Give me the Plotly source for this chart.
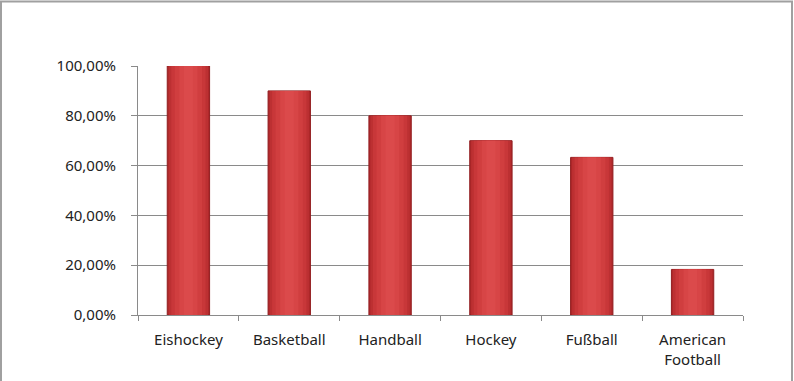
import plotly.graph_objects as go

categories = ["Eishockey", "Basketball", "Handball", "Hockey", "Fußball", "American<br>Football"]
values = [1.00, 0.90, 0.80, 0.70, 0.633, 0.183]

W, H = 794, 381
ml, mr, mt, mb = 138, 51, 66, 64
pw = W - ml - mr
ph = H - mt - mb

fig = go.Figure()
# layered bars of decreasing width to suggest the horizontal gradient
layers = [(0.42, "#AE282A"), (0.39, "#BC3032"), (0.34, "#C83739"),
          (0.27, "#D03E3F"), (0.18, "#D74546"), (0.09, "#DB4A4B")]
for i, (w, c) in enumerate(layers):
    fig.add_trace(go.Bar(x=categories, y=values, width=w,
                         marker=dict(color=c,
                                     line=dict(color="#921E20", width=1) if i == 0 else dict(width=0)),
                         hoverinfo="skip", showlegend=False))

axis_col = "#8A8A8A"
fig.update_layout(
    width=W, height=H,
    margin=dict(l=ml, r=mr, t=mt, b=mb),
    paper_bgcolor="white", plot_bgcolor="white",
    barmode="overlay",
    separators=",.",
    font=dict(family="Noto Sans, DejaVu Sans, sans-serif", size=15, color="#222222"),
    xaxis=dict(showline=True, linecolor=axis_col, linewidth=1,
               ticks="outside", ticklen=5, tickcolor=axis_col, tickson="boundaries",
               showgrid=False, tickfont=dict(size=15), ticklabelstandoff=11),
    yaxis=dict(range=[0, 1], tickvals=[0, 0.2, 0.4, 0.6, 0.8, 1.0], tickformat=".2%",
               showline=True, linecolor=axis_col, linewidth=1,
               ticks="outside", ticklen=6, tickcolor=axis_col,
               showgrid=True, gridcolor=axis_col, gridwidth=1,
               zeroline=False, tickfont=dict(size=15), ticklabelstandoff=12),
    shapes=[dict(type="rect", xref="paper", yref="paper",
                 x0=-(ml - 1) / pw, x1=1 + (mr - 2) / pw,
                 y0=-(mb + 5) / ph, y1=1 + (mt - 1) / ph,
                 line=dict(color="#A0A0A0", width=2), fillcolor="rgba(0,0,0,0)")],
)

fig.write_html("out.html", config={"displayModeBar": False},
               post_script="document.body.style.margin='0';document.body.style.overflow='hidden';")
